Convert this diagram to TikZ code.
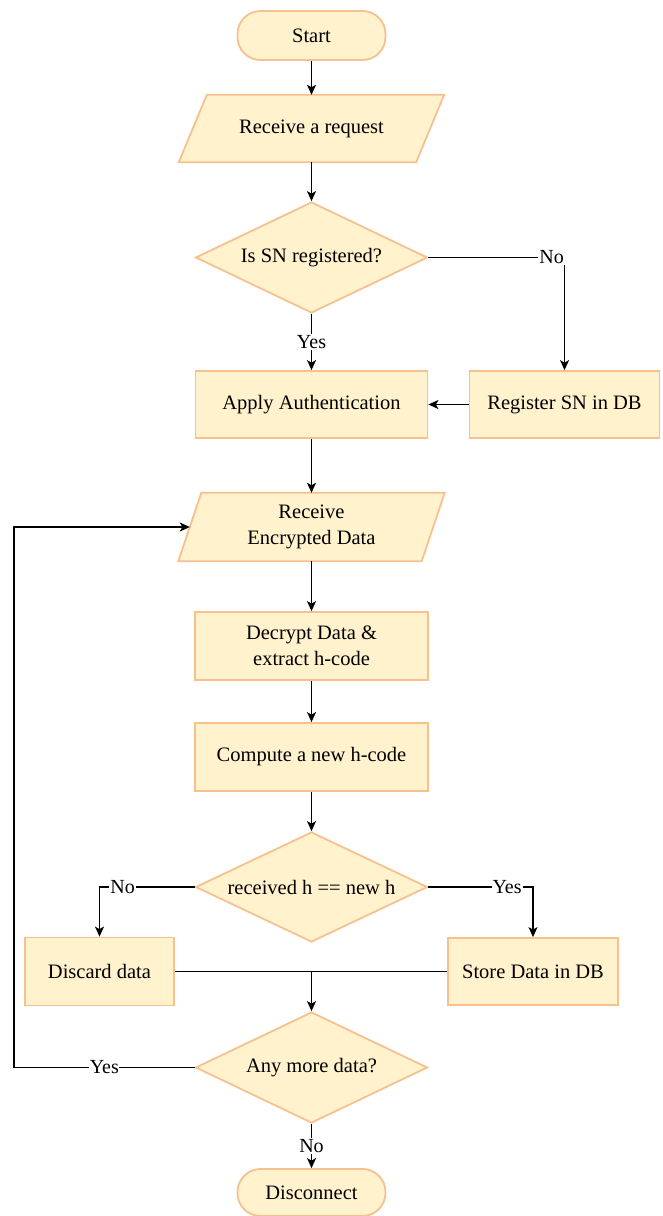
\documentclass[tikz,border=0pt]{standalone}
\usepackage{fontspec}
\setmainfont{Liberation Serif}
\usetikzlibrary{shapes.geometric,arrows.meta,calc,backgrounds}

\definecolor{boxfill}{HTML}{FFF2CC}
\definecolor{boxline}{HTML}{F7C08F}

\tikzset{
  every node/.style={font=\fontsize{20.5}{25.5}\selectfont, align=center},
  base/.style={fill=boxfill, draw=boxline, line width=1.8pt, inner sep=0pt},
  terminal/.style={base, rectangle, rounded corners=23pt, minimum width=148pt},
  procbox/.style={base, rectangle},
  decision/.style={base, diamond, aspect=2.09, minimum width=232pt, minimum height=111pt},
  iobox/.style={rectangle, inner sep=0pt, minimum height=67pt},
  flow/.style={line width=1.2pt, -{Stealth[length=10pt,width=9pt,inset=2.5pt]}},
  plain/.style={line width=1.2pt},
  lbl/.style={fill=white, inner sep=1pt, font=\fontsize{20}{24}\selectfont},
}

% parallelogram outline around an (invisible) rectangular node
\newcommand{\ioshape}[2]{%
  \begin{pgfonlayer}{background}
    \draw[base] ($(#1.south west)+(-#2,0)$) -- ($(#1.north west)+(#2,0)$)
      -- ($(#1.north east)+(#2,0)$) -- ($(#1.south east)+(-#2,0)$) -- cycle;
  \end{pgfonlayer}}

\begin{document}
\begin{tikzpicture}[x=1pt, y=-1pt]
\useasboundingbox (0,0) rectangle (663,1216);

% main column
\node[terminal, minimum height=49pt] (start) at (311.5,35.5) {Start};
\node[iobox, minimum width=237pt] (req) at (311.5,128.5) {Receive a request};
\ioshape{req}{14pt}
\node[decision] (reg) at (311.5,257.5) {Is SN registered?};
\node[procbox, minimum width=232pt, minimum height=67pt] (auth) at (311.5,404.5) {Apply Authentication};
\node[procbox, minimum width=190pt, minimum height=67pt] (regdb) at (564.5,404.5) {Register SN in DB};
\node[iobox, minimum width=243pt, minimum height=68pt] (recv) at (311.5,527) {Receive\\Encrypted Data};
\ioshape{recv}{11.5pt}
\node[procbox, minimum width=233pt, minimum height=68pt] (decrypt) at (311.5,646) {Decrypt Data \&\\extract h-code};
\node[procbox, minimum width=233pt, minimum height=68pt] (hcode) at (311.5,757) {Compute a new h-code};
\node[decision, minimum height=110pt] (cmp) at (311.5,887) {received h == new h};
\node[procbox, minimum width=149pt, minimum height=68pt] (discard) at (99.5,971.5) {Discard data};
\node[procbox, minimum width=170pt, minimum height=67pt] (store) at (533,971.5) {Store Data in DB};
\node[decision] (more) at (311.5,1067.5) {Any more data?};
\node[terminal, minimum height=47pt] (disc) at (311.5,1192.5) {Disconnect};

\coordinate (loop) at (14,1067.5);

% connectors
\draw[flow] (start) -- (req);
\draw[flow] (req) -- (reg);
\draw[flow] (reg.east) -| node[lbl, pos=0.453] {No} (regdb.north);
\draw[flow] (reg.south) -- node[lbl] {Yes} (auth.north);
\draw[flow] (regdb.west) -- (auth.east);
\draw[flow] (auth) -- (recv);
\draw[flow] (recv) -- (decrypt);
\draw[flow] (decrypt) -- (hcode);
\draw[flow] (hcode) -- (cmp);
\draw[flow] (cmp.west) -| node[lbl, pos=0.378] {No} (discard.north);
\draw[flow] (cmp.east) -| node[lbl, pos=0.376] {Yes} (store.north);
\draw[plain] (discard.east) -- (store.west);
\draw[flow] (discard.east -| more.north) -- (more.north);
\draw[plain] (more.west) -- node[lbl, inner sep=0.3pt] {Yes} (loop);
\draw[flow] (loop) |- (recv.west);
\draw[flow] (more.south) -- node[lbl] {No} (disc.north);
\end{tikzpicture}
\end{document}
